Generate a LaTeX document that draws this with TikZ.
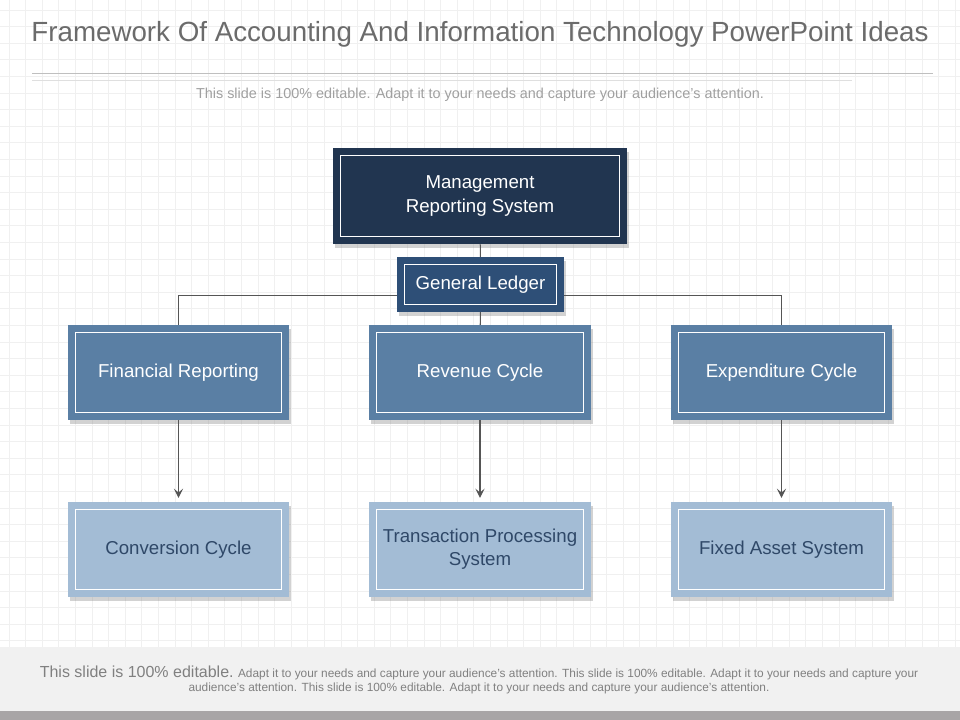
\documentclass[tikz,border=0pt]{standalone}
\usepackage{fontspec}
\setmainfont{Liberation Sans}
\usetikzlibrary{shadows,arrows.meta}
\definecolor{navy}{HTML}{213550}
\definecolor{ledger}{HTML}{2E4F77}
\definecolor{midblue}{HTML}{5A7FA4}
\definecolor{lightblue}{HTML}{A3BCD5}
\definecolor{darktext}{HTML}{2F4868}
\definecolor{linegray}{HTML}{555555}
\definecolor{titlegray}{HTML}{6B6B6B}
\definecolor{subgray}{HTML}{A0A0A0}
\definecolor{gridgray}{HTML}{F0F0F0}
\definecolor{footgray}{HTML}{F1F1F1}
\definecolor{bargray}{HTML}{A8A5A6}
\tikzset{
	box/.style={rectangle, minimum width=166pt, minimum height=71pt, inner sep=0pt, align=center,
		font=\fontsize{14}{17.3}\selectfont,
		drop shadow={shadow xshift=1.5pt, shadow yshift=-3pt, opacity=0.35}},
	frame/.style={draw=white, line width=0.8pt},
	link/.style={draw=linegray, line width=0.8pt},
}
\begin{document}
\begin{tikzpicture}[x=0.75pt,y=-0.75pt]
	\useasboundingbox (0,0) rectangle (960,720);
	\fill[white] (0,0) rectangle (960,720);
	\foreach \g in {9,25.6,...,960} \draw[gridgray,line width=0.6pt] (\g,0) -- (\g,647);
	\foreach \g in {10,26.6,...,647} \draw[gridgray,line width=0.6pt] (0,\g) -- (960,\g);
	\fill[footgray] (0,647) rectangle (960,711);
	\fill[bargray] (0,711) rectangle (960,720);
	% heading
	\node[text=titlegray, font=\fontsize{20.8}{25}\selectfont] (title) at (480,34) {Framework Of Accounting And Information Technology PowerPoint Ideas};
	\draw[draw=gray!50] (32,73) -- (933,73);
	\draw[draw=gray!25] (32,80) -- (852,80);
	\node[text=subgray, font=\fontsize{10.8}{12}\selectfont] (sub) at (480,95) {This slide is 100\% editable.  Adapt it to your needs and capture your audience's attention.};
	% boxes
	\node[box, fill=navy, text=white, minimum width=220.5pt, minimum height=72pt] (mrs) at (480,196) {Management\\Reporting System};
	\node[box, fill=ledger, text=white, minimum width=125pt, minimum height=41pt] (gl) at (480.5,284.5) {General Ledger};
	\node[box, fill=midblue, text=white] (fin) at (178.5,372.5) {Financial Reporting};
	\node[box, fill=midblue, text=white] (rev) at (480,372.5) {Revenue Cycle};
	\node[box, fill=midblue, text=white] (exp) at (781.5,372.5) {Expenditure Cycle};
	\node[box, fill=lightblue, text=darktext] (conv) at (178.5,549.5) {Conversion Cycle};
	\node[box, fill=lightblue, text=darktext] (tps) at (480,549.5) {Transaction Processing\\System};
	\node[box, fill=lightblue, text=darktext] (fas) at (781.5,549.5) {Fixed Asset System};
	\foreach \n in {mrs,gl,fin,rev,exp,conv,tps,fas}
		\draw[frame] ([shift={(7.5,7.5)}]\n.north west) rectangle ([shift={(-7.5,-7.5)}]\n.south east);
	% connectors
	\draw[link] (mrs) -- (gl);
	\draw[link] (gl) -- (rev);
	\draw[link] (fin.north) |- ([yshift=-8pt]gl.west);
	\draw[link] (exp.north) |- ([yshift=-8pt]gl.east);
	\foreach \a/\b in {fin/conv,rev/tps,exp/fas}
		\draw[link, -{Stealth[length=7pt,width=7pt,inset=3pt]}, shorten >=3pt] (\a) -- (\b);
	% footer
	\node[text=gray, align=center, font=\fontsize{8.9}{11}\selectfont] (foot) at (479,680) {{\fontsize{12}{12}\selectfont This slide is 100\% editable.} Adapt it to your needs and capture your audience's attention. This slide is 100\% editable. Adapt it to your needs and capture your\\audience's attention. This slide is 100\% editable. Adapt it to your needs and capture your audience's attention.};
\end{tikzpicture}
\end{document}
